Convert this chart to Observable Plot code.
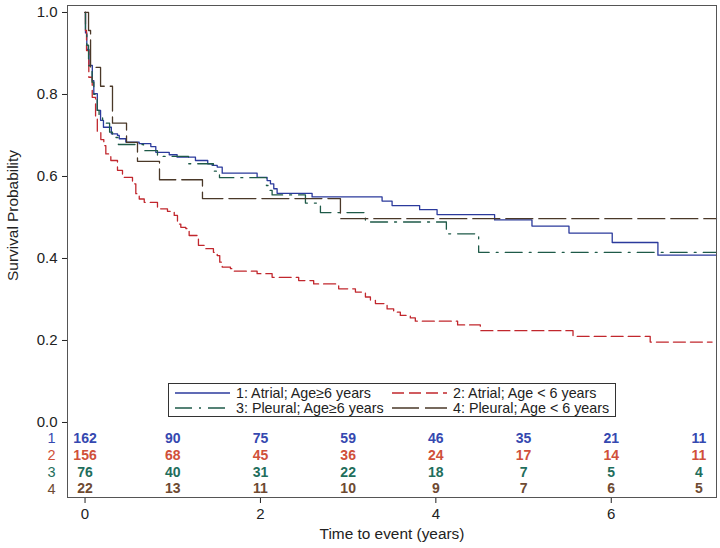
<!DOCTYPE html>
<html><head><meta charset="utf-8">
<script src="https://cdn.jsdelivr.net/npm/d3@7"></script>
<script src="https://cdn.jsdelivr.net/npm/@observablehq/plot@0.6"></script>
<style>
body{margin:0;background:#fff;font-family:"Liberation Sans",Arial,sans-serif}
#wrap{position:relative;width:720px;height:548px}
#legend{position:absolute;left:168px;top:383px;width:448px;height:34px;border:1px solid #333;background:#fff;font-size:14.3px;color:#222;box-sizing:border-box}
.item{position:absolute;display:flex;align-items:center;white-space:nowrap;height:15px}
.item svg{margin-right:6px}
</style></head>
<body><div id="wrap"><div id="chart"></div><div id="legend"></div></div>
<script>
// ---- data ----
const groupLabels = ["1: Atrial; Age\u22656 years", "2: Atrial; Age < 6 years", "3: Pleural; Age\u22656 years", "4: Pleural; Age < 6 years"];
const rowLabels = ["1", "2", "3", "4"];

const g1Time = [0, 0.005, 0.02, 0.045, 0.083, 0.10, 0.14, 0.177, 0.21, 0.30, 0.37, 0.39, 0.465, 0.617, 0.75, 0.807, 0.96, 1.05, 1.259, 1.399, 1.45, 1.507, 1.564, 1.962, 2.076, 2.114, 2.152, 2.19, 2.589, 3.387, 3.501, 3.815, 4.014, 4.67, 5.096, 5.518, 6.011, 6.532, 7.2];
const g1Surv = [1.0, 0.95, 0.91, 0.871, 0.834, 0.802, 0.761, 0.737, 0.72, 0.704, 0.70, 0.692, 0.684, 0.68, 0.673, 0.659, 0.653, 0.647, 0.639, 0.631, 0.627, 0.623, 0.608, 0.598, 0.59, 0.582, 0.57, 0.559, 0.55, 0.54, 0.529, 0.519, 0.507, 0.494, 0.479, 0.462, 0.439, 0.408, 0.408];

const g2Time = [0, 0.005, 0.017, 0.043, 0.082, 0.12, 0.14, 0.18, 0.214, 0.237, 0.294, 0.37, 0.427, 0.541, 0.579, 0.618, 0.675, 0.826, 0.94, 1.017, 1.054, 1.092, 1.149, 1.187, 1.279, 1.293, 1.373, 1.464, 1.507, 1.536, 1.564, 1.658, 1.678, 1.962, 2.133, 2.436, 2.607, 2.892, 3.083, 3.197, 3.254, 3.311, 3.444, 3.519, 3.595, 3.709, 3.766, 4.248, 4.507, 5.564, 6.444, 7.15];
const g2Surv = [1.0, 0.956, 0.907, 0.842, 0.793, 0.74, 0.71, 0.69, 0.675, 0.655, 0.639, 0.615, 0.598, 0.582, 0.558, 0.545, 0.537, 0.521, 0.515, 0.505, 0.484, 0.476, 0.473, 0.456, 0.452, 0.432, 0.424, 0.415, 0.407, 0.391, 0.379, 0.375, 0.369, 0.363, 0.354, 0.346, 0.338, 0.326, 0.318, 0.306, 0.298, 0.29, 0.277, 0.269, 0.261, 0.255, 0.247, 0.238, 0.224, 0.21, 0.196, 0.196];

const g3Time = [0, 0.005, 0.02, 0.04, 0.08, 0.10, 0.139, 0.16, 0.20, 0.28, 0.313, 0.38, 0.667, 0.826, 1.18, 1.464, 1.533, 2.068, 2.1, 2.133, 2.513, 2.684, 3.197, 4.12, 4.488, 7.2];
const g3Surv = [1.0, 0.95, 0.92, 0.87, 0.83, 0.80, 0.761, 0.745, 0.73, 0.708, 0.695, 0.678, 0.663, 0.649, 0.631, 0.613, 0.597, 0.578, 0.566, 0.555, 0.535, 0.512, 0.489, 0.46, 0.415, 0.415];

const g4Time = [0, 0.04, 0.063, 0.177, 0.313, 0.473, 0.598, 0.849, 1.339, 2.912, 7.2];
const g4Surv = [1.0, 0.956, 0.866, 0.82, 0.73, 0.683, 0.637, 0.592, 0.546, 0.497, 0.497];

const riskTimes = [0, 1, 2, 3, 4, 5, 6, 7];
const risk1 = [162, 90, 75, 59, 46, 35, 21, 11];
const risk2 = [156, 68, 45, 36, 24, 17, 14, 11];
const risk3 = [76, 40, 31, 22, 18, 7, 5, 4];
const risk4 = [22, 13, 11, 10, 9, 7, 6, 5];

const xTicks = [0, 2, 4, 6];
const yTicks = [0, 0.2, 0.4, 0.6, 0.8, 1.0];

// ---- styles ----
const lineColors = ["#2b3a9c", "#c1272d", "#1e5a48", "#4a3828"];
const numColors = ["#3548b0", "#d0503a", "#1f6e5c", "#6e4a32"];
const dashes = [null, "12,5", "17,7,2,7", "27,6"];

const curves = [[g1Time, g1Surv], [g2Time, g2Surv], [g3Time, g3Surv], [g4Time, g4Surv]]
  .map(([t, s], g) => t.map((v, i) => ({t: v, s: s[i], g})));
const risks = [risk1, risk2, risk3, risk4];
const rowY = i => -0.039 - 0.041 * i;
const riskData = risks.flatMap((r, g) => r.map((n, i) => ({t: riskTimes[i], n, g, y: rowY(g)})));
const rowData = rowLabels.map((l, g) => ({l, g, y: rowY(g)}));

const font = '"Liberation Sans", Arial, sans-serif';
const chart = Plot.plot({
  width: 720, height: 548,
  marginLeft: 67, marginRight: 4, marginTop: 5, marginBottom: 51,
  x: {domain: [-0.2, 7.2]},
  y: {domain: [-0.183, 1.017]},
  style: {fontFamily: font, fontSize: "15px", color: "#222", background: "#fff"},
  marks: [
    Plot.axisX({ticks: xTicks, tickSize: 6, tickPadding: 5, label: null, fontSize: 15}),
    Plot.axisY({ticks: yTicks, tickSize: 5, tickPadding: 5, tickFormat: d3.format(".1f"), label: null, fontSize: 15}),
    ...curves.map((c, g) => Plot.line(c, {x: "t", y: "s", curve: "step-after", stroke: lineColors[g], strokeWidth: 1.3, strokeDasharray: dashes[g]})),
    Plot.text(riskData, {x: "t", y: "y", text: "n", fill: d => numColors[d.g], fontWeight: "bold", fontSize: 14}),
    Plot.text(rowData, {y: "y", frameAnchor: "left", textAnchor: "middle", dx: -16, text: "l", fill: d => numColors[d.g], fontSize: 14.5}),
    Plot.frame({stroke: "#555"}),
    Plot.text(["Time to event (years)"], {frameAnchor: "bottom", dy: 41, fontSize: 15.4, fill: "#222"}),
    Plot.text(["Survival Probability"], {frameAnchor: "left", textAnchor: "middle", dx: -54, dy: -36, rotate: -90, fontSize: 15.4, fill: "#222"})
  ]
});
document.getElementById("chart").appendChild(chart);

// legend
const legend = document.getElementById("legend");
groupLabels.forEach((lab, g) => {
  const col = g % 2, row = Math.floor(g / 2);
  const div = document.createElement("div");
  div.className = "item";
  div.style.left = (6 + col * 217) + "px";
  div.style.top = (1 + row * 15) + "px";
  const ns = "http://www.w3.org/2000/svg";
  const svg = document.createElementNS(ns, "svg");
  svg.setAttribute("width", 55); svg.setAttribute("height", 10);
  const ln = document.createElementNS(ns, "line");
  ln.setAttribute("x1", 0); ln.setAttribute("x2", 55); ln.setAttribute("y1", 5); ln.setAttribute("y2", 5);
  ln.setAttribute("stroke", lineColors[g]); ln.setAttribute("stroke-width", 1.3);
  if (dashes[g]) ln.setAttribute("stroke-dasharray", dashes[g]);
  svg.appendChild(ln);
  div.appendChild(svg);
  const span = document.createElement("span");
  span.textContent = lab;
  div.appendChild(span);
  legend.appendChild(div);
});
</script>
</body></html>
